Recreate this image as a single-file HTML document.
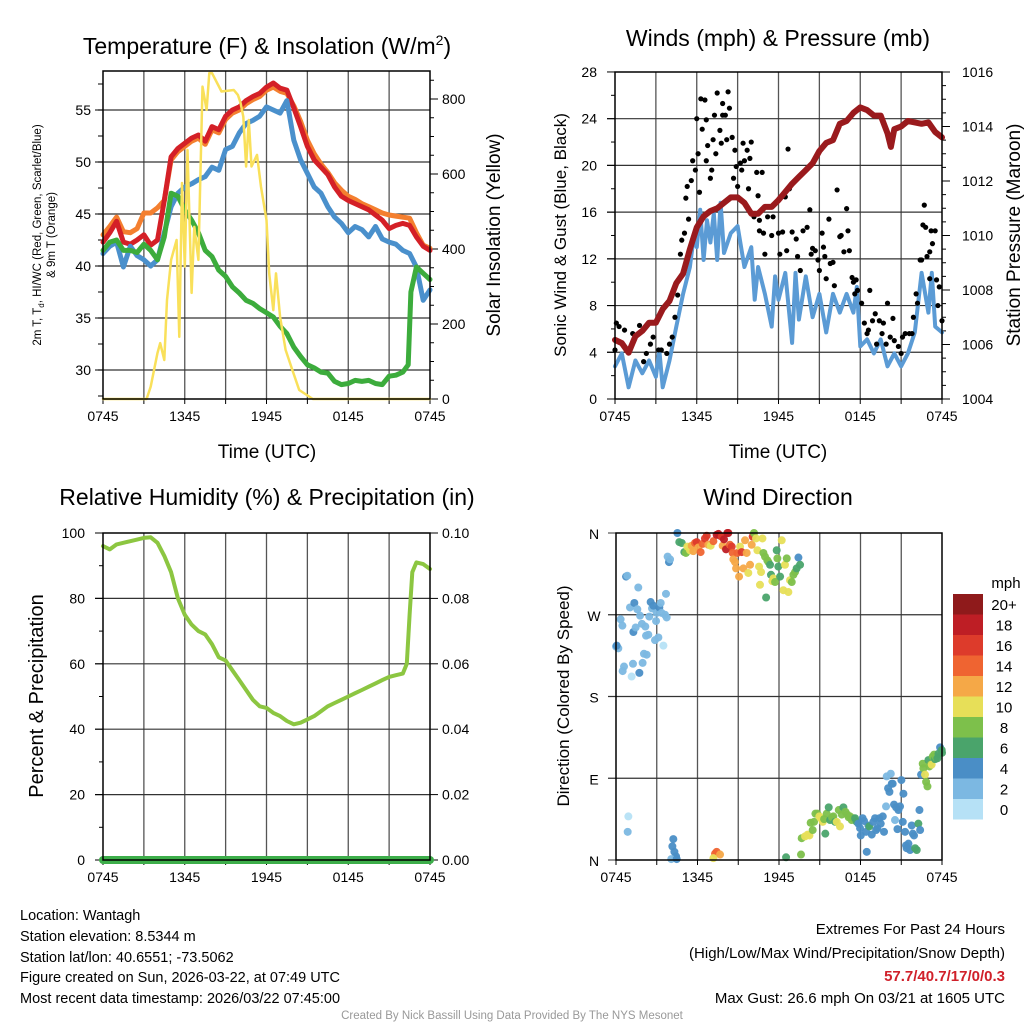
<!DOCTYPE html>
<html><head><meta charset="utf-8"><style>
body{margin:0;background:#fff;}
svg{display:block;font-family:"Liberation Sans",Arial,sans-serif;}
</style></head><body>
<svg id="s" width="1024" height="1024" xmlns="http://www.w3.org/2000/svg">
<rect width="1024" height="1024" fill="#fff"/>
<text x="267" y="54" font-size="23" text-anchor="middle">Temperature (F) &amp; Insolation (W/m<tspan dy="-9" font-size="14">2</tspan><tspan dy="9">)</tspan></text>
<text x="778" y="46" font-size="23" text-anchor="middle">Winds (mph) &amp; Pressure (mb)</text>
<text x="267" y="505" font-size="23" text-anchor="middle">Relative Humidity (%) &amp; Precipitation (in)</text>
<text x="778" y="505" font-size="23" text-anchor="middle">Wind Direction</text>
<text x="267" y="458" font-size="19" text-anchor="middle">Time (UTC)</text>
<text x="778" y="458" font-size="19" text-anchor="middle">Time (UTC)</text>
<text transform="translate(41,235) rotate(-90)" font-size="11.5" text-anchor="middle">2m T, T<tspan dy="3" font-size="8">d</tspan><tspan dy="-3">, HI/WC (Red, Green, Scarlet/Blue)</tspan></text>
<text transform="translate(55,235) rotate(-90)" font-size="11.5" text-anchor="middle">&amp; 9m T (Orange)</text>
<text transform="translate(500,235) rotate(-90)" font-size="19" text-anchor="middle">Solar Insolation (Yellow)</text>
<text transform="translate(566,235) rotate(-90)" font-size="17" text-anchor="middle">Sonic Wind &amp; Gust (Blue, Black)</text>
<text transform="translate(1020,235) rotate(-90)" font-size="19" text-anchor="middle">Station Pressure (Maroon)</text>
<text transform="translate(43,696) rotate(-90)" font-size="20" text-anchor="middle">Percent &amp; Precipitation</text>
<text transform="translate(569,696) rotate(-90)" font-size="17" text-anchor="middle">Direction (Colored By Speed)</text>
<g font-size="14.5">
<text x="20" y="920">Location: Wantagh</text>
<text x="20" y="941">Station elevation: 8.5344 m</text>
<text x="20" y="962">Station lat/lon: 40.6551; -73.5062</text>
<text x="20" y="982">Figure created on Sun, 2026-03-22, at 07:49 UTC</text>
<text x="20" y="1003">Most recent data timestamp: 2026/03/22 07:45:00</text>
</g>
<g font-size="15" text-anchor="end">
<text x="1005" y="934">Extremes For Past 24 Hours</text>
<text x="1005" y="958">(High/Low/Max Wind/Precipitation/Snow Depth)</text>
<text x="1005" y="981" fill="#d0202a" font-weight="bold">57.7/40.7/17/0/0.3</text>
<text x="1005" y="1003">Max Gust: 26.6 mph On 03/21 at 1605 UTC</text>
</g>
<text x="512" y="1019" font-size="11.5" fill="#999" text-anchor="middle">Created By Nick Bassill Using Data Provided By The NYS Mesonet</text>
</svg>
<script>
// ---- Temperature panel data (hours since 0745 UTC) ----
const tT = [0,0.5,1,1.5,2,2.5,3,3.5,4,4.5,5,5.5,6,6.5,7,7.5,8,8.5,9,9.5,10,10.5,11,11.5,12,12.5,13,13.5,14,14.5,15,15.5,16,16.5,17,17.5,18,18.5,19,19.5,20,20.5,21,21.5,22,22.5,23,23.5,24];
const tempRed = [42.3,43.2,44.3,42.3,42.1,42.5,43,42,42.5,46.3,50.5,51.3,51.8,52.3,52.6,52,53.4,53.1,54.4,55,55.3,55.9,56.3,56.6,57.2,57.6,57.1,56.9,55.2,53.4,51.5,50.2,49.5,48.8,47.6,46.7,46.3,46,45.7,45.4,44.9,44.4,43.6,43.9,44.1,43.9,42.8,41.9,41.5];
const tempOrange = [43,43.8,44.7,43.3,43.2,43.6,45.1,45.1,45.6,46.3,50.2,51,51.5,52,52.3,51.7,53.1,52.8,54.1,54.7,55,55.6,56,56.3,56.9,57.2,56.8,56.6,55.4,53.9,52.1,50.8,49.8,49,48,47.3,46.7,46.4,46,45.7,45.4,45.1,44.9,44.8,44.7,44.6,43.2,42,41.7];
const tempBlue = [41.2,41.9,42.3,39.9,41.9,41,40.6,40,40.6,43.2,45.7,47,47.6,47.9,48.3,48.6,49.5,49.2,51.2,51.5,52.8,53.7,54,54.4,55.3,55,54.7,55.9,52.1,50.2,48.9,47.6,47,45.7,44.7,44.1,43.2,43.8,43.5,42.8,43.8,42.6,42.3,42.1,41.5,41.2,39.9,36.7,37.7];
const tG = [0,0.5,1,1.5,2,2.5,3,3.5,4,4.5,5,5.5,6,6.5,7,7.5,8,8.5,9,9.5,10,10.5,11,11.5,12,12.5,13,13.5,14,14.5,15,15.5,16,16.5,17,17.5,18,18.5,19,19.5,20,20.5,21,21.5,22,22.4,22.6,23,23.5,24];
const tempGreen = [41.5,42.3,42.5,41.5,41.5,41.3,42.1,41.5,40.6,42.8,47,46.7,45.4,44.4,43.2,41.5,40.9,39.6,39,38,37.4,36.7,36.4,35.9,35.5,35.1,34.2,33.5,32.2,31.3,30.5,30.2,29.8,29.7,28.9,28.6,28.7,29,28.9,29,28.7,28.6,29.4,29.5,29.8,30.5,37.5,39.9,39.3,38.7];
const tSun = [0,3.2,3.5,4,4.2,4.5,4.7,5,5.4,5.6,5.8,6,6.2,6.5,6.7,7,7.3,7.6,7.8,8,8.7,9.6,9.9,10.1,10.3,10.5,10.7,10.9,11.3,11.6,12,12.2,12.5,12.7,13,13.4,13.9,14.4,15.4,24];
const insolation = [0,0,33,123,149,104,264,371,424,166,576,353,664,283,459,371,833,771,869,869,820,824,811,789,753,620,744,620,651,566,477,335,237,335,219,131,77,24,0,0];
// ---- Wind panel data ----
const tW = [0,0.5,1,1.5,2,2.5,3,3.25,3.5,4,4.5,5,5.5,5.75,6,6.25,6.5,6.75,7,7.25,7.5,7.75,8,8.5,9,9.5,10,10.25,10.5,11,11.5,11.75,12,12.5,13,13.25,13.5,14,14.5,15,15.5,16,16.5,17,17.5,17.75,18,18.5,19,19.5,20,20.5,21,21.5,22,22.5,23,23.25,23.5,24];
const windSpd = [2.8,3.9,1,3.3,2.2,3.3,1.9,4.2,1,3.3,6.2,9,11.3,13.6,13,16.2,11.9,15.3,13.4,15.9,11.9,16.8,12.5,14.2,14.8,11.3,13,8.5,11.3,9,6.2,10.5,8.5,10.8,4.8,10.8,6.8,10.5,7,9,5.7,9,7.4,9,7.4,9.6,4.5,5.1,3.9,5.1,2.8,3.9,2.8,3.9,5.7,10.8,7.4,10.8,6.2,5.7];
const tP = [0,0.5,1,1.5,2,2.5,3,3.5,4,4.5,5,5.5,6,6.5,7,7.5,8,8.5,9,9.5,10,10.5,11,11.5,12,12.5,13,13.5,14,14.5,15,15.5,16,16.5,17,17.5,18,18.5,19,19.5,20,20.25,20.5,21,21.5,22,22.5,23,23.5,24];
const pressure = [1006.17,1006.05,1005.7,1006.3,1006.5,1006.8,1006.8,1007.3,1007.6,1008.25,1008.6,1009.5,1010.3,1010.7,1010.9,1011,1011.2,1011.4,1011.4,1011.2,1010.8,1010.8,1011.05,1011.05,1011.3,1011.6,1011.9,1012.15,1012.4,1012.65,1013.1,1013.4,1013.5,1014.1,1014.2,1014.5,1014.7,1014.6,1014.4,1014.4,1013.75,1013.25,1013.9,1014,1014.2,1014.15,1014.1,1014.15,1013.8,1013.6];
const tGust = [0,0.1,0.3,0.7,1.3,1.8,2.1,2.3,2.6,2.8,3.2,3.4,3.8,4.0,4.2,4.4,4.6,4.8,4.9,5.1,5.2,5.3,5.4,5.6,5.7,5.9,6.0,6.1,6.2,6.3,6.4,6.6,6.7,6.7,6.8,7.0,7.1,7.2,7.3,7.4,7.5,7.7,7.8,7.9,7.9,8.1,8.2,8.3,8.4,8.6,8.7,8.8,8.9,9.0,9.2,9.3,9.4,9.5,9.7,9.8,9.9,10.0,10.2,10.4,10.5,10.6,10.6,10.8,10.9,11.0,11.2,11.5,11.6,12.0,12.1,12.3,12.5,12.6,12.7,12.8,13.0,13.3,13.4,13.6,13.8,14.1,14.3,14.4,14.5,14.7,14.9,15.0,15.2,15.3,15.4,15.5,15.7,15.8,16.0,16.1,16.3,16.5,16.6,16.8,17.0,17.1,17.2,17.4,17.5,17.6,17.7,17.8,18.1,18.3,18.5,18.6,18.7,18.9,19.1,19.2,19.4,19.6,19.7,19.9,20.0,20.2,20.4,20.5,20.8,21.0,21.1,21.3,21.6,21.8,21.9,22.1,22.2,22.4,22.5,22.6,22.7,22.8,22.9,23.1,23.1,23.2,23.3,23.5,23.6,23.7,23.8,24.0];
const gustSpd = [4.2,6.5,6.2,5.9,5.6,6.3,3.2,3.9,4.7,5.3,4.2,4.2,3.9,4.7,5.3,7.0,8.9,12.4,13.6,14.2,17.2,18.2,15.4,18.7,20.4,19.6,24.0,21.0,17.7,25.7,23.1,25.6,23.9,20.4,21.7,18.9,19.6,22.2,24.3,21.0,26.2,23.0,21.9,24.3,25.3,24.3,22.2,26.3,24.9,22.4,18.9,21.3,19.9,18.2,20.2,19.6,21.9,20.4,21.3,18.0,20.6,22.0,15.6,19.4,17.4,15.3,14.4,19.4,14.2,12.4,15.6,14.0,15.6,14.2,12.4,14.3,17.3,12.7,21.4,18.0,14.3,13.7,12.2,11.0,14.4,14.7,16.2,12.4,12.9,12.7,11.9,11.0,14.2,13.0,12.2,10.3,15.4,11.6,11.7,9.7,17.9,13.9,14.0,12.6,16.3,14.4,12.7,10.4,10.0,9.0,10.2,9.3,8.2,6.5,5.6,5.9,9.3,6.7,7.3,4.7,6.7,5.6,6.5,4.7,8.2,5.3,6.9,5.0,4.5,3.9,5.3,5.6,5.6,5.6,7.0,9.0,8.2,11.9,11.9,14.9,16.6,14.7,12.2,12.6,10.3,14.4,13.3,14.4,10.2,8.0,9.6,6.7];
// ---- RH panel ----
const tRH = [0,0.5,1,2,3,3.5,4,4.5,5,5.5,6,6.5,7,7.5,8,8.5,9,9.5,10,10.5,11,11.5,12,12.5,13,13.5,14,14.5,15,15.5,16,16.5,17,17.5,18,18.5,19,19.5,20,20.5,21,21.5,22,22.3,22.5,22.7,23,23.5,24];
const rh = [96,95,96.5,97.5,98.5,98.7,97,93,88,80,75,72,70,69,66,62,61,58,55,52,49,47,46.5,45,44,42.5,41.5,42,43,44,45.5,47,48,49,50,51,52,53,54,55,56,56.5,57,60,75,88,91,90.5,89];
const precip = [0,0];
const tPrecip = [0,24];
// ---- Wind direction panel ----
const dirT = [0,0.17,0.05,0.74,0.83,0.34,0.47,0.59,0.49,1.03,1.15,1.25,1.35,1.28,1.45,1.57,1.64,1.72,1.77,1.91,1.96,2.06,2.16,2.21,2.26,2.38,2.45,2.55,2.65,2.75,2.87,2.95,2.99,3.12,3.19,3.29,3.36,3.49,3.61,3.68,3.73,3.80,3.90,3.98,0.91,0.86,4.22,4.15,4.30,4.42,4.07,4.47,
4.52,4.66,4.84,5.03,5.15,5.25,5.45,5.57,5.69,5.82,5.94,6.06,6.23,6.38,6.55,6.68,6.80,6.97,7.17,7.41,7.54,7.66,7.78,7.85,7.95,8.10,8.20,8.27,8.39,8.52,8.59,8.64,8.76,8.84,8.93,9.06,9.13,9.25,9.38,9.50,9.62,9.74,9.87,9.99,10.06,10.16,10.31,10.41,10.53,10.60,10.68,10.78,10.85,10.97,11.05,11.14,11.22,11.34,11.41,11.51,11.59,11.71,11.83,11.88,11.95,12.08,12.20,12.32,12.44,12.57,12.69,12.81,12.94,13.06,13.18,13.30,13.43,13.55,
7.29,7.41,7.66,7.17,
12.52,13.62,13.67,13.92,14.11,14.24,14.33,14.48,14.58,14.68,14.83,14.97,15.07,15.22,15.32,15.41,15.51,15.66,15.76,15.91,16.00,16.13,16.25,16.40,16.49,16.62,16.74,16.89,17.03,17.13,17.23,17.35,17.48,17.60,17.72,17.84,17.97,18.02,18.16,18.26,18.41,18.46,18.58,18.65,18.83,18.95,19.07,19.15,19.24,19.39,19.49,19.64,19.73,19.88,19.93,20.03,20.13,20.23,20.30,20.37,20.47,20.54,20.62,20.72,20.79,20.91,21.01,21.11,21.16,21.28,21.35,21.40,21.53,21.65,21.77,21.85,21.94,22.02,22.14,22.26,22.34,22.39,22.46,22.58,22.63,22.75,22.83,22.93,23.00,23.07,23.17,23.24,23.32,23.42,23.49,23.56,23.66,23.74,23.86,23.98,24.0];
const dirDeg = [235,233,236,312,313,265,258,213,208,278,202,216,283,251,256,276,300,206,269,260,217,227,257,247,226,248,268,284,277,280,242,263,272,245,278,283,272,236,270,293,267,334,328,331,48,31,23,15,9,4,1,1,
360,350,349,339,338,345,341,346,340,349,350,344,339,348,354,357,347,346,351,358,359,357,356,346,353,342,360,360,347,345,338,331,328,321,338,312,345,339,321,352,338,316,325,347,356,360,354,341,323,303,317,354,338,334,289,330,328,325,314,307,310,306,341,332,323,312,352,297,325,332,295,308,306,314,317,321,333,325,
7,9,6,2,
3,6,24,26,28,27,41,33,42,51,51,48,46,42,45,29,51,58,44,47,48,42,42,55,37,50,58,53,50,47,48,44,46,46,42,40,35,27,46,43,31,9,38,37,28,42,46,33,35,46,40,48,31,59,92,79,75,95,84,84,61,44,58,34,55,59,88,42,73,31,16,13,18,11,38,29,27,13,11,40,55,33,94,106,101,94,86,81,110,103,105,105,114,116,111,113,112,117,124,121,118];
const dirSpd = [3,3,5,5,3,3,3,3,3,3,1,3,5,5,3,3,3,5,3,3,3,3,3,3,3,3,3,5,3,5,3,3,3,3,5,3,3,1,3,3,3,3,5,3,1,3,5,5,5,5,3,5,
5,7,7,7,9,11,11,13,13,15,17,13,15,15,17,17,13,11,15,19,19,19,17,13,19,19,19,19,15,17,15,13,13,13,15,13,11,17,13,13,13,11,13,13,17,9,11,11,11,11,11,11,9,9,7,9,9,7,7,11,11,9,7,9,7,7,11,11,11,9,11,11,9,9,9,7,5,7,
15,15,13,11,
7,9,9,11,11,11,9,9,9,9,9,11,11,11,9,7,9,7,7,9,9,7,11,9,11,9,7,9,9,9,9,9,9,7,7,5,5,5,5,5,5,5,5,7,5,5,5,5,5,5,5,5,5,3,3,5,5,3,5,5,5,3,5,5,5,5,5,5,5,5,5,5,5,5,5,5,5,7,7,7,5,5,5,9,9,11,9,9,7,9,9,11,9,9,7,9,7,7,5,7,7];
const spdLabels = ["0","2","4","6","8","10","12","14","16","18","20+"];
const spdColors = ["#b6e1f6","#7cb8e2","#4a8ec6","#4aa46b","#7dc04b","#e7df58","#f5a847","#ef6431","#dd3b2b","#be1e25","#8f1a1b"];

const NS="http://www.w3.org/2000/svg";
const svg=document.getElementById('s');
function mk(tag,attrs,parent){const e=document.createElementNS(NS,tag);for(const k in attrs)e.setAttribute(k,attrs[k]);(parent||svg).appendChild(e);return e;}
function txt(x,y,s,size,anchor,parent){const e=mk('text',{x:x,y:y,'font-size':size,'text-anchor':anchor},parent);e.textContent=s;return e;}

function panel(name,L,R,T,B){
  const g=mk('g',{});
  
  
  return {g,L,R,T,B,x:t=>L+(R-L)*t/24};
}
function frame(p,hTicks,vLabels){
  // vertical grid every 3h
  for(let h=3;h<24;h+=3){mk('line',{x1:p.x(h),x2:p.x(h),y1:p.T,y2:p.B,stroke:'#555','stroke-width':1.3},p.g);}
  const xl=["0745","1345","1945","0145","0745"];
  for(let i=0;i<5;i++){txt(p.x(i*6),p.B+22,xl[i],14,'middle',p.g);}
  for(let h=0;h<=24;h+=3){mk('line',{x1:p.x(h),x2:p.x(h),y1:p.B,y2:p.B+5,stroke:'#000'},p.g);}
}
function hgrid(p,ys){ys.forEach(y=>mk('line',{x1:p.L-8,x2:p.R,y1:y,y2:y,stroke:'#333','stroke-width':1.2},p.g));}
function border(p){mk('rect',{x:p.L,y:p.T,width:p.R-p.L,height:p.B-p.T,fill:'none',stroke:'#000','stroke-width':1.5},p.g);}
function line(p,ts,vs,yf,color,w,name){
  let d='';for(let i=0;i<ts.length;i++){d+=(i?'L':'M')+p.x(ts[i]).toFixed(1)+','+yf(vs[i]).toFixed(1);}
  const e=mk('path',{d:d,fill:'none',stroke:color,'stroke-width':w,'stroke-linejoin':'round','stroke-linecap':'round'},p.g);
  
  
  return e;
}

// Panel 1
const p1=panel('temperature-panel',103,430,71,399);
const yT=v=>370-(v-30)*10.4, yS=v=>399-v*0.375;
frame(p1);
hgrid(p1,[30,35,40,45,50,55].map(yT));
[30,35,40,45,50,55].forEach(v=>txt(p1.L-12,yT(v)+5,String(v),14,'end',p1.g));
for(let v=27.5;v<59;v+=2.5)mk('line',{x1:p1.L-5,x2:p1.L,y1:yT(v),y2:yT(v),stroke:'#000'},p1.g);
[0,200,400,600,800].forEach(v=>{txt(p1.R+12,yS(v)+5,String(v),14,'start',p1.g);mk('line',{x1:p1.R,x2:p1.R+8,y1:yS(v),y2:yS(v),stroke:'#000'},p1.g);});
for(let v=50;v<880;v+=50)mk('line',{x1:p1.R,x2:p1.R+4,y1:yS(v),y2:yS(v),stroke:'#000'},p1.g);
line(p1,tT,tempOrange,yT,'#f47f2f',5,'series-9m-temp');
line(p1,tT,tempRed,yT,'#d42027',5,'series-2m-temp');
line(p1,tT,tempBlue,yT,'#4a90cc',5,'series-heat-index-windchill');
line(p1,tG,tempGreen,yT,'#3cac3c',5,'series-dewpoint');
line(p1,tSun,insolation,yS,'#f9e05a',2.5,'series-insolation');
border(p1);

// Panel 2
const p2=panel('wind-panel',615,942,72,399);
const yW=v=>399-v*11.68, yP=v=>399-(v-1004)*27.25;
frame(p2);
hgrid(p2,[4,8,12,16,20,24].map(yW));
[0,4,8,12,16,20,24,28].forEach(v=>txt(p2.L-18,yW(v)+5,String(v),14,'end',p2.g));
for(let v=0;v<=28;v+=2)mk('line',{x1:p2.L-(v%4?4:8),x2:p2.L,y1:yW(v),y2:yW(v),stroke:'#000'},p2.g);
[1004,1006,1008,1010,1012,1014,1016].forEach(v=>{txt(p2.R+20,yP(v)+5,String(v),14,'start',p2.g);mk('line',{x1:p2.R,x2:p2.R+8,y1:yP(v),y2:yP(v),stroke:'#000'},p2.g);});
for(let v=1004;v<1016;v+=0.5)mk('line',{x1:p2.R,x2:p2.R+4,y1:yP(v),y2:yP(v),stroke:'#000'},p2.g);
line(p2,tW,windSpd,yW,'#5b9bd5',4,'series-sonic-wind');
for(let i=0;i<tGust.length;i++){
  const c=mk('circle',{cx:p2.x(tGust[i]),cy:yW(gustSpd[i]),r:2.6,fill:'#000'},p2.g);
  
  
}
line(p2,tP,pressure,yP,'#9a1a1d',6,'series-pressure');
border(p2);

// Panel 3
const p3=panel('humidity-panel',103,430,533,860);
const yR=v=>860-v*3.27, yPr=v=>860-v*3270;
frame(p3);
hgrid(p3,[20,40,60,80].map(yR));
[0,20,40,60,80,100].forEach(v=>txt(p3.L-18,yR(v)+5,String(v),14,'end',p3.g));
for(let v=0;v<=100;v+=10)mk('line',{x1:p3.L-(v%20?4:8),x2:p3.L,y1:yR(v),y2:yR(v),stroke:'#000'},p3.g);
["0.00","0.02","0.04","0.06","0.08","0.10"].forEach((s,i)=>{txt(p3.R+12,yR(i*20)+5,s,14,'start',p3.g);mk('line',{x1:p3.R,x2:p3.R+8,y1:yR(i*20),y2:yR(i*20),stroke:'#000'},p3.g);});
line(p3,tRH,rh,yR,'#8cc641',4,'series-relative-humidity');
line(p3,tPrecip,precip,yPr,'#3dae4a',8,'series-precipitation');
border(p3);

// Panel 4
const p4=panel('direction-panel',616,942,533,860);
const yD=v=>860-v/360*327;
frame(p4);
hgrid(p4,[90,180,270].map(yD));
mk('line',{x1:p4.L-8,x2:p4.R,y1:yD(0),y2:yD(0),stroke:'#333'},p4.g);
mk('line',{x1:p4.L-8,x2:p4.R,y1:yD(360),y2:yD(360),stroke:'#333'},p4.g);
["N","E","S","W","N"].forEach((s,i)=>txt(p4.L-22,yD(i*90)+6,s,14,'middle',p4.g));
function spdColor(s){return spdColors[Math.min(10,Math.floor(s/2))];}
for(let i=0;i<dirT.length;i++){
  const c=mk('circle',{cx:p4.x(dirT[i]),cy:yD(dirDeg[i]),r:4,fill:spdColor(dirSpd[i]),opacity:0.95},p4.g);
  
  
}
border(p4);

// Speed colour legend
const lg=mk('g',{});


txt(1006,588,'mph',15,'middle',lg);
for(let i=0;i<11;i++){
  const k=10-i, y=594+i*20.5;
  const r=mk('rect',{x:953,y:y,width:30,height:20.5,fill:spdColors[k]},lg);
  
  
  txt(1004,y+16,spdLabels[k],15,'middle',lg);
}
</script>
</body></html>
